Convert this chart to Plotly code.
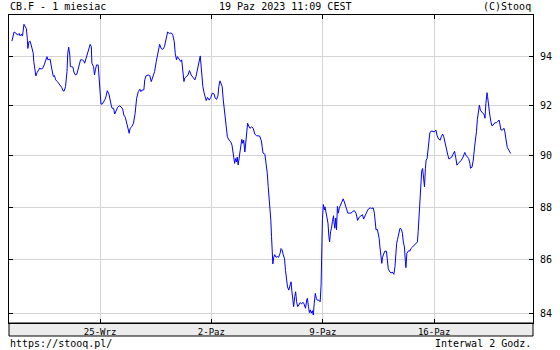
import plotly.graph_objects as go

# bar index (2-hour bars, 12 per trading day) and CB.F price readings
bar = [0.5, 1.7, 2.6, 3.5, 4.4, 4.9, 5.6, 6.2, 7.0, 7.5, 8.3, 8.8, 9.1, 9.7, 10.2, 10.9, 11.4, 12.0, 12.3, 12.8,
       13.4, 14.1, 14.9, 15.5, 16.2, 17.0, 17.9, 18.8, 19.4, 19.9, 20.6, 21.1, 21.6, 22.2, 22.8, 23.4, 24.1, 25.0, 25.9, 26.8,
       27.3, 28.1, 28.7, 29.4, 29.9, 30.2, 30.6, 31.1, 31.7, 32.0, 32.6, 33.4, 33.9, 34.7, 35.5, 36.0, 36.9, 37.5, 38.4, 39.2,
       39.7, 40.5, 41.0, 41.7, 42.2, 42.7, 43.3, 43.6, 44.5, 45.0, 45.5, 46.1, 47.0, 47.5, 48.0, 48.5, 49.2, 50.1, 50.7, 51.3,
       51.9, 52.8, 53.3, 54.0, 54.5, 55.3, 55.9, 56.6, 57.5, 58.4, 59.3, 60.2, 60.8, 61.6, 62.4, 63.3, 63.7, 64.2, 65.1, 66.0,
       66.9, 67.7, 68.6, 69.5, 70.0, 70.7, 71.6, 72.1, 72.7, 73.9, 74.8, 75.6, 76.5, 77.4, 78.3, 79.2, 80.1, 80.9, 81.8, 82.7,
       83.5, 84.4, 85.3, 86.2, 87.1, 88.0, 88.5, 89.2, 89.7, 90.6, 91.5, 92.0, 92.3, 92.9, 93.2, 93.6, 94.5, 95.4, 96.2, 97.1,
       98.0, 99.1, 99.7, 100.6, 101.5, 102.0, 102.4, 102.9, 103.4, 104.1, 104.6, 105.2, 105.9, 106.8, 107.7, 108.5, 109.4, 110.1, 110.8, 111.5,
       112.0, 112.6, 113.1, 113.8, 114.4, 114.9, 115.6, 116.1, 116.6, 117.5, 118.4, 119.1, 119.6, 120.2, 120.5, 121.0, 121.5, 121.9, 122.4, 122.8,
       123.3, 123.9, 124.4, 124.9, 125.4, 126.0, 126.3, 126.6, 127.2, 127.5, 128.1, 128.8, 129.7, 130.5, 131.4, 132.3, 133.1, 134.0, 134.9, 135.5,
       135.8, 136.8, 137.6, 138.1, 138.6, 139.2, 139.7, 140.0, 140.4, 140.7, 141.1, 141.6, 142.1, 142.8, 143.5, 144.2, 145.0, 145.5, 146.0, 146.7,
       147.4, 147.9, 148.4, 149.0, 149.7, 150.2, 150.9, 151.3, 151.8, 152.3, 152.9, 153.4, 153.9, 154.5, 155.1, 155.8, 156.6, 157.3, 157.9, 158.7,
       159.4, 159.7, 160.3, 160.8, 161.3, 161.8, 162.4, 162.9, 163.4, 164.0, 164.5, 165.0, 165.9, 166.6, 167.1, 167.4, 167.8, 168.3, 168.9, 169.2,
       169.8, 170.3, 170.8, 171.3, 171.7, 172.2, 172.7, 173.2, 173.8, 174.1, 174.5, 175.0, 175.4, 175.9, 176.4, 176.9, 177.7, 178.5, 179.0, 179.8,
       180.6, 181.5, 182.4, 183.3, 184.2, 185.1, 185.9, 186.8, 187.7, 188.5, 189.4, 190.0, 190.9, 191.7, 192.6, 193.5, 194.3, 195.2, 195.8, 196.3,
       196.7, 197.4, 197.9, 198.4, 198.8, 199.3, 199.8, 200.2, 200.9, 201.4, 202.3, 202.8, 203.3, 204.1, 204.9, 205.4, 206.3, 206.9, 207.2, 207.8,
       208.3, 209.0, 209.6, 210.4, 210.9, 211.4, 212.0, 212.5, 212.8, 213.3, 213.9, 214.4, 214.9, 215.5, 216.4, 217.2, 218.1, 219.0, 219.4, 219.9,
       220.2, 220.7, 221.3, 221.8, 222.3, 222.8, 223.3, 223.7, 224.2, 224.8, 225.2, 225.7, 226.4, 227.3, 228.1, 229.0, 229.5, 230.4, 231.3, 231.8,
       232.6, 233.2, 233.9, 234.7, 235.4, 236.0, 236.8, 237.5, 238.2, 239.0, 239.6, 240.3, 241.0, 241.8, 242.7, 243.6, 244.5, 245.2, 245.9, 246.6,
       247.3, 247.6, 248.4, 249.1, 249.8, 250.3, 250.8, 251.3, 251.9, 252.4, 252.9, 253.5, 254.2, 254.9, 255.4, 255.9, 256.5, 256.8, 257.4, 258.0,
       258.6, 259.1, 259.8, 260.7, 261.6, 262.4, 263.0, 263.5, 264.0, 264.9, 265.6, 266.1, 266.7, 267.4, 268.3, 269.2]

price = [94.63, 95.01, 94.97, 94.88, 94.95, 94.85, 94.92, 94.84, 95.33, 95.24, 95.15, 94.74, 94.33, 94.60, 94.64, 94.47, 94.33, 94.13, 93.79, 93.45,
         93.20, 93.34, 93.42, 93.52, 93.48, 93.50, 93.65, 93.89, 93.99, 93.86, 93.89, 93.89, 93.65, 93.31, 93.18, 93.22, 93.04, 92.97, 92.88, 92.84,
         92.74, 92.59, 92.59, 92.77, 93.04, 93.38, 94.13, 94.38, 94.06, 93.58, 93.58, 93.56, 93.36, 93.24, 93.27, 93.42, 93.72, 93.86, 93.86, 93.82,
         93.72, 93.93, 94.06, 94.16, 94.27, 94.50, 94.40, 93.72, 93.58, 93.24, 93.45, 93.65, 93.65, 93.18, 92.43, 92.06, 92.06, 92.16, 92.25, 92.39,
         92.60, 92.46, 92.22, 92.02, 91.89, 91.89, 91.66, 91.82, 91.93, 91.99, 91.95, 91.86, 91.62, 91.53, 91.29, 90.95, 90.89, 91.09, 91.15, 91.29,
         91.69, 92.29, 92.56, 92.66, 92.56, 92.63, 92.63, 93.04, 93.20, 93.24, 93.22, 92.97, 93.18, 93.38, 93.79, 94.13, 94.50, 94.33, 94.29, 94.40,
         94.74, 95.01, 94.95, 94.97, 94.92, 94.60, 94.13, 93.86, 93.99, 93.86, 93.79, 93.86, 93.65, 93.11, 92.97, 93.11, 93.18, 93.24, 93.42, 93.24,
         93.15, 93.04, 93.18, 93.52, 93.86, 94.02, 93.65, 93.18, 92.77, 92.50, 92.33, 92.20, 92.33, 92.22, 92.33, 92.50, 92.47, 92.29, 92.25, 92.39,
         92.77, 93.00, 92.91, 92.77, 92.22, 91.82, 91.55, 91.15, 90.75, 90.62, 90.55, 90.42, 90.22, 89.95, 89.70, 89.89, 89.76, 89.95, 89.64, 89.83,
         90.22, 90.42, 90.65, 90.49, 90.62, 90.15, 90.35, 90.69, 90.95, 91.29, 91.18, 91.09, 91.15, 91.09, 90.86, 90.79, 90.79, 90.78, 90.59, 90.35,
         90.11, 90.06, 89.70, 89.32, 88.80, 88.29, 87.77, 87.51, 86.87, 86.22, 85.84, 86.09, 86.19, 86.09, 86.12, 86.09, 86.24, 86.42, 86.38, 86.19,
         86.03, 85.60, 85.29, 84.98, 84.86, 85.05, 85.17, 84.86, 84.49, 84.25, 84.62, 84.80, 84.43, 84.25, 84.31, 84.40, 84.35, 84.41, 84.35, 84.19,
         84.50, 84.56, 84.25, 84.03, 84.13, 84.01, 84.10, 83.94, 84.37, 84.74, 84.56, 84.49, 84.49, 84.43, 85.05, 86.22, 87.51, 88.10, 87.90, 88.01,
         87.71, 87.62, 87.39, 86.87, 86.67, 87.06, 87.19, 87.45, 87.67, 87.39, 87.19, 87.58, 87.13, 88.03, 87.77, 87.97, 88.13, 88.26, 88.32, 88.16,
         87.93, 87.77, 87.77, 87.77, 87.84, 87.86, 87.77, 87.49, 87.62, 87.67, 87.71, 87.54, 87.71, 87.81, 87.93, 87.97, 87.95, 87.97, 87.77, 87.39,
         87.13, 87.15, 87.00, 86.80, 86.48, 86.09, 85.86, 86.09, 86.28, 86.32, 86.32, 86.03, 85.66, 85.54, 85.50, 85.54, 85.45, 85.74, 86.19, 86.61,
         86.77, 86.97, 87.19, 87.15, 87.00, 86.67, 86.48, 85.94, 85.70, 86.24, 86.28, 86.35, 86.32, 86.42, 86.48, 86.53, 86.61, 86.67, 87.06, 87.58,
         88.29, 88.67, 89.40, 89.50, 89.19, 88.79, 89.51, 89.83, 89.89, 90.35, 90.75, 90.91, 90.98, 90.95, 90.95, 91.02, 90.82, 90.66, 90.62, 90.75,
         90.86, 90.75, 90.49, 90.15, 90.02, 89.87, 89.93, 89.95, 90.06, 90.18, 89.95, 89.63, 89.70, 89.76, 89.83, 89.95, 90.13, 90.02, 89.93, 89.89,
         89.70, 89.51, 89.55, 89.83, 90.35, 90.62, 90.95, 91.45, 91.75, 92.02, 91.82, 91.75, 91.69, 91.65, 91.49, 92.09, 92.52, 92.36, 91.89, 91.62,
         91.35, 91.19, 91.22, 91.31, 91.31, 91.38, 91.42, 91.22, 91.02, 91.02, 91.09, 90.95, 90.55, 90.33, 90.22, 90.09]

x_tick_pos = [48, 108, 168, 228]
x_tick_text = ["25-Wrz", "2-Paz", "9-Paz", "16-Paz"]
y_tick_vals = [84, 86, 88, 90, 92, 94]
y_tick_text = ["84", "86", "88", "90", "92", "94"]

title_left = "CB.F - 1 miesiac"
title_mid = "19 Paz 2023 11:09 CEST"
title_right = "(C)Stooq"
foot_left = "https://stooq.pl/"
foot_right = "Interwal 2 Godz."

FONT = "DejaVu Sans Mono"
PLOT_H = 308  # plot area height in px (350 - t - b)
BAND = 13     # grey date band height in px

fig = go.Figure()
fig.add_trace(go.Scatter(x=bar, y=price, mode="lines",
                         line=dict(color="#0000ff", width=1), hoverinfo="skip"))

fig.update_layout(
    width=560, height=350,
    margin=dict(l=8, r=17, t=15, b=27, pad=0),
    paper_bgcolor="white", plot_bgcolor="white",
    showlegend=False,
    font=dict(family=FONT, size=10, color="black"),
    xaxis=dict(
        range=[-1.055, 281.27], tickmode="array", tickvals=x_tick_pos, ticktext=x_tick_text,
        showgrid=True, gridcolor="#d4d4d4", gridwidth=1, zeroline=False,
        showline=True, linecolor="black", linewidth=1, mirror="ticks",
        ticks="inside", ticklen=4, tickcolor="black",
        tickfont=dict(family=FONT, size=9, color="black"),
        ticklabelstandoff=0,
    ),
    yaxis=dict(
        type="log", range=[1.92246, 1.98100], side="right",
        tickmode="array", tickvals=y_tick_vals, ticktext=y_tick_text,
        showgrid=True, gridcolor="#d4d4d4", gridwidth=1, zeroline=False,
        showline=True, linecolor="black", linewidth=1, mirror="ticks",
        ticks="inside", ticklen=4, tickcolor="black",
        tickfont=dict(family=FONT, size=10, color="black"),
        ticklabelstandoff=4,
    ),
    shapes=[dict(type="rect", xref="paper", yref="paper", x0=0, x1=1,
                 y0=-BAND / PLOT_H, y1=0, fillcolor="#ececec",
                 line=dict(color="black", width=1), layer="below")],
)

ann_top = 1 + 8 / PLOT_H
ann_bot = -20 / PLOT_H
for txt, x, anchor, y in [(title_left, -0.002, "left", ann_top),
                          (title_mid, 0.527, "center", ann_top),
                          (title_right, 1.0, "right", ann_top),
                          (foot_left, -0.002, "left", ann_bot),
                          (foot_right, 1.0, "right", ann_bot)]:
    fig.add_annotation(text=txt, x=x, y=y, xref="paper", yref="paper",
                       xanchor=anchor, yanchor="middle", showarrow=False,
                       font=dict(family=FONT, size=10, color="black"))

fig.write_html("out.html")
